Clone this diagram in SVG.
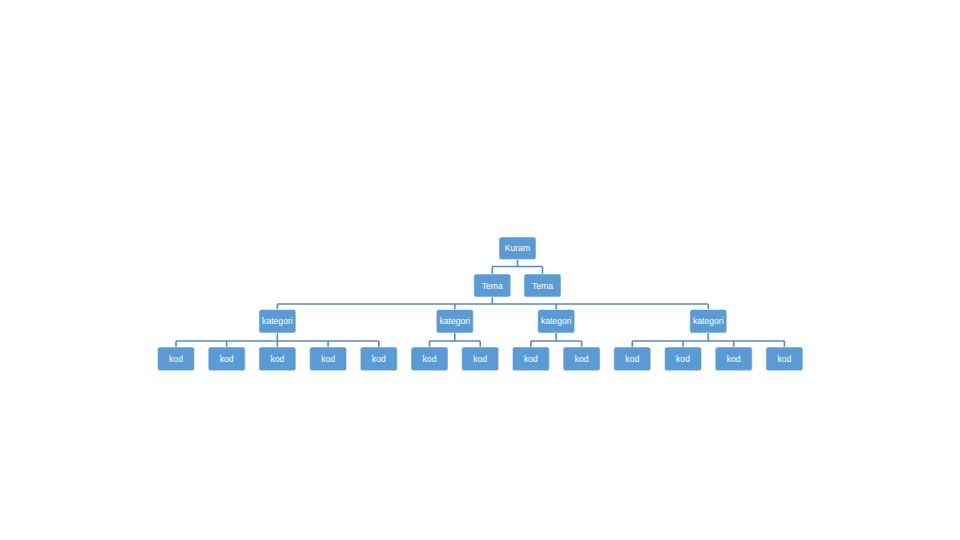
<svg xmlns="http://www.w3.org/2000/svg" width="960" height="540" viewBox="0 0 960 540">
<style>
.b{fill:#5B9BD5;stroke:#FFFFFF;stroke-width:0.5}
.t{fill:#FFFFFF;font-family:"Liberation Sans","DejaVu Sans",sans-serif;font-size:8.6px;text-anchor:middle;dominant-baseline:central}
.c{fill:none;stroke:#5A8AB8;stroke-width:1.6}
</style>
<rect width="960" height="540" fill="#FFFFFF"/>
<g id="connectors">
<path class="c" d="M517.5 259V266.5M492.3 266.5H542.5M492.3 266.5V274M542.5 266.5V274"/>
<path class="c" d="M492.3 297V304M277.4 304H708.3M277.4 304V309.5M454.8 304V309.5M556.2 304V309.5M708.3 304V309.5"/>
<path class="c" d="M277.4 333V341M176 341H378.8M176 341V347M226.7 341V347M277.4 341V347M328.1 341V347M378.8 341V347"/>
<path class="c" d="M454.8 333V341M429.5 341H480.2M429.5 341V347M480.2 341V347"/>
<path class="c" d="M556.2 333V341M530.9 341H581.6M530.9 341V347M581.6 341V347"/>
<path class="c" d="M708.3 333V341M632.3 341H784.4M632.3 341V347M683 341V347M733.7 341V347M784.4 341V347"/>
</g>
<g id="kuram"><rect class="b" x="499" y="237" width="37" height="22.5" rx="2.5"/><text class="t" x="517.5" y="248">Kuram</text></g>
<g id="tema1"><rect class="b" x="473.8" y="274" width="37" height="23" rx="2.5"/><text class="t" x="492.3" y="285.5">Tema</text></g>
<g id="tema2"><rect class="b" x="524" y="274" width="37" height="23" rx="2.5"/><text class="t" x="542.5" y="285.5">Tema</text></g>
<g id="kategori1"><rect class="b" x="258.9" y="309.5" width="37" height="23.5" rx="2.5"/><text class="t" x="277.4" y="321.2">kategori</text></g>
<g id="kategori2"><rect class="b" x="436.3" y="309.5" width="37" height="23.5" rx="2.5"/><text class="t" x="454.8" y="321.2">kategori</text></g>
<g id="kategori3"><rect class="b" x="537.7" y="309.5" width="37" height="23.5" rx="2.5"/><text class="t" x="556.2" y="321.2">kategori</text></g>
<g id="kategori4"><rect class="b" x="689.8" y="309.5" width="37" height="23.5" rx="2.5"/><text class="t" x="708.3" y="321.2">kategori</text></g>
<g id="kod1"><rect class="b" x="157.5" y="347" width="37" height="23.7" rx="2.5"/><text class="t" x="176" y="358.8">kod</text></g>
<g id="kod2"><rect class="b" x="208.2" y="347" width="37" height="23.7" rx="2.5"/><text class="t" x="226.7" y="358.8">kod</text></g>
<g id="kod3"><rect class="b" x="258.9" y="347" width="37" height="23.7" rx="2.5"/><text class="t" x="277.4" y="358.8">kod</text></g>
<g id="kod4"><rect class="b" x="309.6" y="347" width="37" height="23.7" rx="2.5"/><text class="t" x="328.1" y="358.8">kod</text></g>
<g id="kod5"><rect class="b" x="360.3" y="347" width="37" height="23.7" rx="2.5"/><text class="t" x="378.8" y="358.8">kod</text></g>
<g id="kod6"><rect class="b" x="411" y="347" width="37" height="23.7" rx="2.5"/><text class="t" x="429.5" y="358.8">kod</text></g>
<g id="kod7"><rect class="b" x="461.7" y="347" width="37" height="23.7" rx="2.5"/><text class="t" x="480.2" y="358.8">kod</text></g>
<g id="kod8"><rect class="b" x="512.4" y="347" width="37" height="23.7" rx="2.5"/><text class="t" x="530.9" y="358.8">kod</text></g>
<g id="kod9"><rect class="b" x="563.1" y="347" width="37" height="23.7" rx="2.5"/><text class="t" x="581.6" y="358.8">kod</text></g>
<g id="kod10"><rect class="b" x="613.8" y="347" width="37" height="23.7" rx="2.5"/><text class="t" x="632.3" y="358.8">kod</text></g>
<g id="kod11"><rect class="b" x="664.5" y="347" width="37" height="23.7" rx="2.5"/><text class="t" x="683" y="358.8">kod</text></g>
<g id="kod12"><rect class="b" x="715.2" y="347" width="37" height="23.7" rx="2.5"/><text class="t" x="733.7" y="358.8">kod</text></g>
<g id="kod13"><rect class="b" x="765.9" y="347" width="37" height="23.7" rx="2.5"/><text class="t" x="784.4" y="358.8">kod</text></g>
</svg>
